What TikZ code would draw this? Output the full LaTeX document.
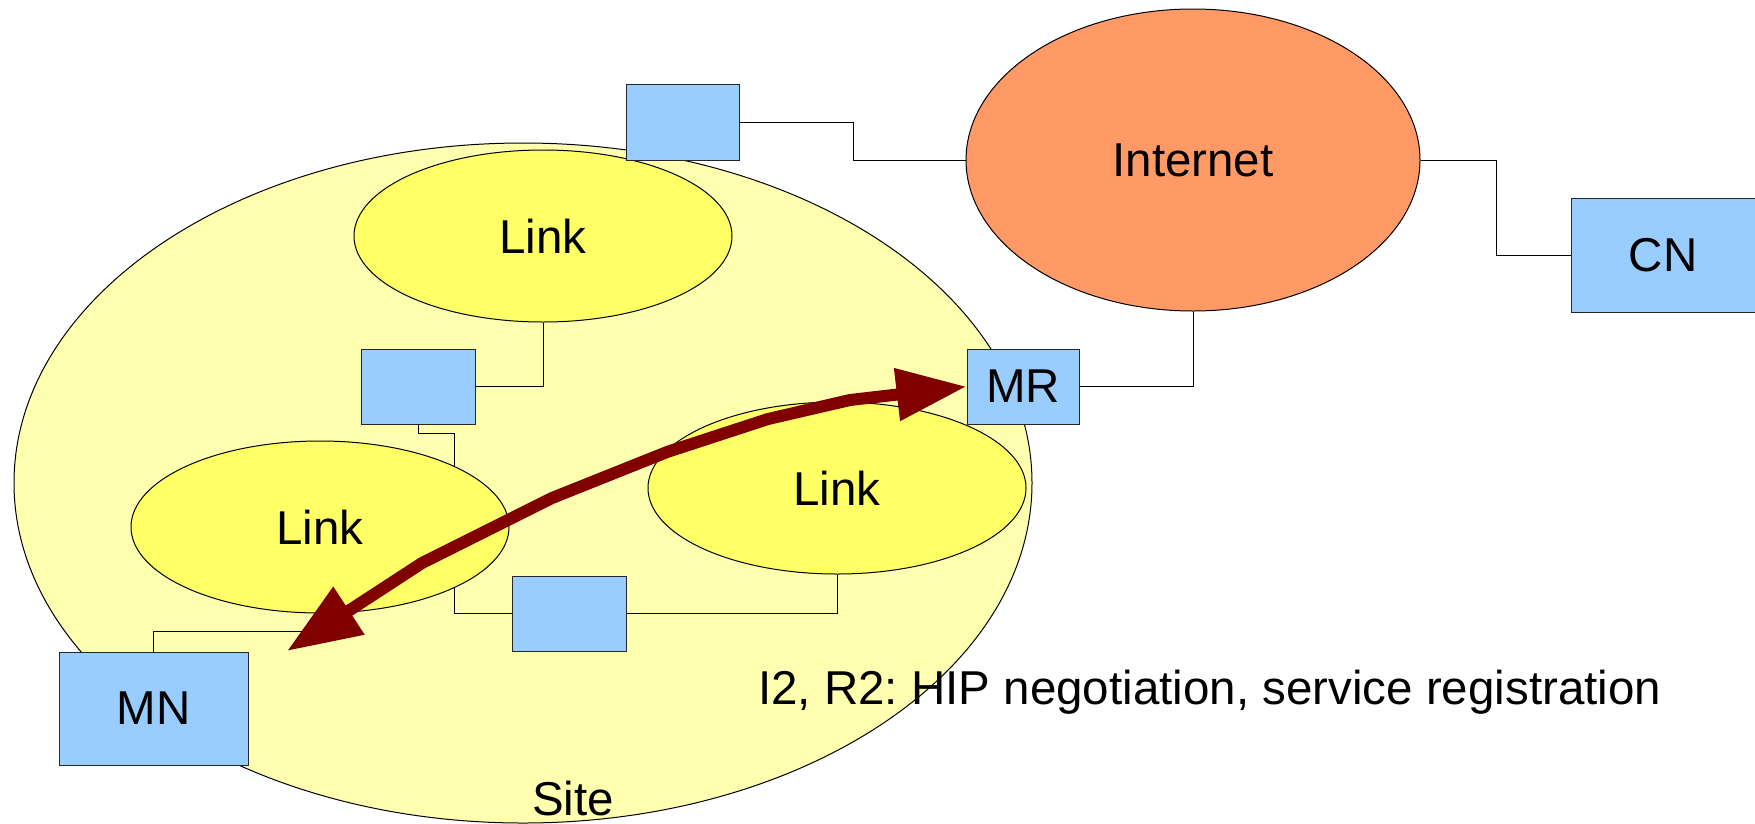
\documentclass[tikz,border=0pt]{standalone}
\usepackage{fontspec}
\setmainfont{Liberation Sans}
\usetikzlibrary{arrows.meta,shapes.geometric}
\definecolor{boxblue}{HTML}{99CCFF}
\definecolor{sitefill}{HTML}{FFFFB0}
\definecolor{linkfill}{HTML}{FFFF66}
\definecolor{netfill}{HTML}{FF9966}
\definecolor{arrowred}{HTML}{800000}
\pgfdeclarelayer{sitelayer}
\pgfdeclarelayer{wirelayer}
\pgfsetlayers{sitelayer,wirelayer,main}
\tikzset{
  lbl/.style={font=\fontsize{47.5}{57}\selectfont, text=black},
  devbox/.style={draw=black!85, line width=1pt, fill=boxblue, inner sep=0pt, lbl},
  linkell/.style={ellipse, draw=black, line width=1pt, fill=linkfill, inner sep=0pt,
     minimum width=378pt, minimum height=172pt, lbl},
  wire/.style={draw=black, line width=1pt},
  msgarrow/.style={draw=arrowred, line width=12pt, line join=round,
     {Triangle[length=74pt,width=54pt]}-{Triangle[length=70pt,width=50pt]}}
}
\begin{document}
\frenchspacing
\begin{tikzpicture}[x=1pt,y=-1pt]
\useasboundingbox (0,0) rectangle (1755,823);
\begin{pgfonlayer}{sitelayer}
\fill[white] (0,0) rectangle (1755,823);
\node[ellipse, draw=black, line width=1pt, fill=sitefill, inner sep=0pt,
      minimum width=1018pt, minimum height=680pt] (site) at (523,483) {};
\end{pgfonlayer}
% link ellipses
\node[linkell] (linkT) at (543,236) {Link};
\node[linkell] (linkL) at (320,527) {Link};
\node[linkell] (linkR) at (837,488) {Link};
% internet
\node[ellipse, draw=black, line width=1pt, fill=netfill, inner sep=0pt,
      minimum width=454pt, minimum height=302pt, lbl] (inet) at (1193,160) {Internet};
% boxes
\node[devbox, minimum width=113pt, minimum height=76pt] (topbox) at (682.5,122) {};
\node[devbox, minimum width=114pt, minimum height=75pt] (b2) at (418,386.5) {};
\node[devbox, minimum width=114pt, minimum height=75pt] (b3) at (569,613.5) {};
\node[devbox, minimum width=112pt, minimum height=75pt] (mr) at (1023,386.5) {MR};
\node[devbox, minimum width=189pt, minimum height=113pt] (mn) at (153.5,708.5) {MN};
\node[devbox, minimum width=184pt, minimum height=114pt] (cn) at (1663,255) {CN};
% wires (behind shapes)
\begin{pgfonlayer}{wirelayer}
\draw[wire] (topbox.east) -- ++(114,0) |- (inet.west);
\draw[wire] (inet.east) -- ++(76,0) |- (cn.west);
\draw[wire] (inet.south) |- (mr.east);
\draw[wire] (linkT.south) |- (b2.east);
\draw[wire] (b2.south) -- ++(0,9) -- ++(36,0) |- (b3.west);
\draw[wire] (b3.east) -| (linkR.south);
\draw[wire] (mn.north) -- ++(0,-20) -| (linkL.south);
\end{pgfonlayer}
% arrow
\coordinate (a0) at (287,651);
\coordinate (a1) at (422,563);
\coordinate (a2) at (552,498);
\coordinate (a3) at (667,452);
\coordinate (a4) at (768,419);
\coordinate (a5) at (850,400);
\draw[msgarrow] (a0) -- (a1) -- (a2) -- (a3) -- (a4) -- (a5) -- (mr.west);
% texts
\node[lbl, anchor=base, inner sep=0pt] (sitelbl) at (573,815) {Site};
\node[lbl, anchor=base west, inner sep=0pt] (msg) at (758,704) {I2, R2: HIP negotiation, service registration};
\end{tikzpicture}
\end{document}
